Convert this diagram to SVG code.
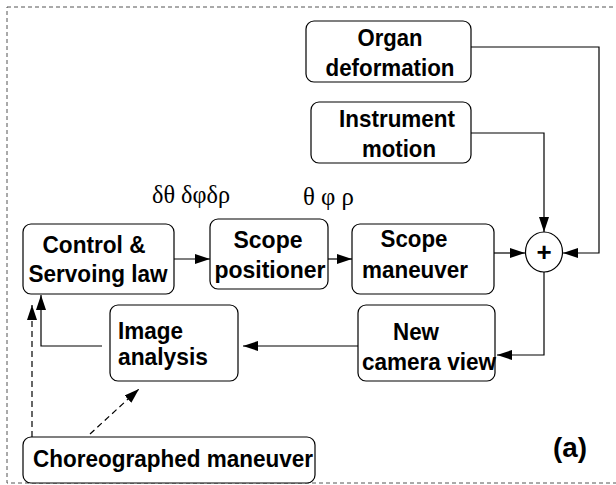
<svg xmlns="http://www.w3.org/2000/svg" width="616" height="485" viewBox="0 0 616 485">
<defs>
<style>
.box{fill:#fff;stroke:#000;stroke-width:1.2}
.lbl{font-family:"Liberation Sans",Arial,sans-serif;font-weight:bold;font-size:24px;fill:#000}
.mid{text-anchor:middle}
.gr{font-family:"Liberation Serif","Times New Roman",serif;font-size:25px;fill:#000}
.ln{fill:none;stroke:#000;stroke-width:1.2}
.dash{fill:none;stroke:#000;stroke-width:1.2;stroke-dasharray:6 4}
</style>
<marker id="ah" markerUnits="userSpaceOnUse" markerWidth="16" markerHeight="10" refX="15" refY="5" orient="auto">
<path d="M0,0 L15,5 L0,10 Z" fill="#000"/>
</marker>
</defs>
<rect x="7" y="7" width="620" height="476" fill="none" stroke="#555" stroke-width="1" stroke-dasharray="4 3"/>

<g id="organ">
<rect class="box" x="306" y="21" width="165" height="61" rx="8"/>
<text class="lbl mid" x="390" y="46" textLength="65" lengthAdjust="spacingAndGlyphs">Organ</text>
<text class="lbl mid" x="390" y="76" textLength="129" lengthAdjust="spacingAndGlyphs">deformation</text>
</g>
<g id="instrument">
<rect class="box" x="311" y="102" width="160" height="61" rx="8"/>
<text class="lbl mid" x="397" y="127" textLength="116" lengthAdjust="spacingAndGlyphs">Instrument</text>
<text class="lbl mid" x="399" y="157" textLength="74" lengthAdjust="spacingAndGlyphs">motion</text>
</g>
<g id="control">
<rect class="box" x="23" y="224" width="151" height="70" rx="8"/>
<text class="lbl mid" x="94" y="253" textLength="103" lengthAdjust="spacingAndGlyphs">Control &amp;</text>
<text class="lbl mid" x="98" y="282" textLength="139" lengthAdjust="spacingAndGlyphs">Servoing law</text>
</g>
<g id="positioner">
<rect class="box" x="210" y="219" width="118" height="70" rx="8"/>
<text class="lbl mid" x="268" y="248" textLength="69" lengthAdjust="spacingAndGlyphs">Scope</text>
<text class="lbl mid" x="270" y="278" textLength="111" lengthAdjust="spacingAndGlyphs">positioner</text>
</g>
<g id="maneuver">
<rect class="box" x="352" y="224" width="142" height="70" rx="8"/>
<text class="lbl mid" x="414" y="247" textLength="67" lengthAdjust="spacingAndGlyphs">Scope</text>
<text class="lbl mid" x="415" y="278" textLength="106" lengthAdjust="spacingAndGlyphs">maneuver</text>
</g>
<g id="sum">
<ellipse cx="544" cy="252" rx="18.5" ry="20" fill="#fff" stroke="#000" stroke-width="1.2"/>
<text class="lbl mid" x="544" y="261" style="font-size:26px">+</text>
</g>
<g id="image">
<rect class="box" x="110" y="305" width="128" height="76" rx="8"/>
<text class="lbl" x="118" y="339" textLength="65" lengthAdjust="spacingAndGlyphs">Image</text>
<text class="lbl" x="118" y="365" textLength="90" lengthAdjust="spacingAndGlyphs">analysis</text>
</g>
<g id="camera">
<rect class="box" x="358" y="305" width="137" height="76" rx="8"/>
<text class="lbl mid" x="416" y="340" textLength="46" lengthAdjust="spacingAndGlyphs">New</text>
<text class="lbl mid" x="429" y="370" textLength="134" lengthAdjust="spacingAndGlyphs">camera view</text>
</g>
<g id="choreo">
<rect class="box" x="23" y="437" width="292" height="46" rx="8"/>
<text class="lbl" x="33" y="467" textLength="280" lengthAdjust="spacingAndGlyphs">Choreographed maneuver</text>
</g>
<g id="labels">
<text class="gr" x="152" y="203" textLength="78" lengthAdjust="spacingAndGlyphs">δθ δφδρ</text>
<text class="gr" x="303" y="205" textLength="51" lengthAdjust="spacingAndGlyphs">θ φ ρ</text>
<text class="lbl" x="553" y="457" style="font-size:28px" textLength="34" lengthAdjust="spacingAndGlyphs">(a)</text>
</g>

<g id="connectors">
<path class="ln" d="M471,47 H599 V253 H563" marker-end="url(#ah)"/>
<path class="ln" d="M471,133 H544 V232" marker-end="url(#ah)"/>
<path class="ln" d="M174,259 H210" marker-end="url(#ah)"/>
<path class="ln" d="M328,259 H352" marker-end="url(#ah)"/>
<path class="ln" d="M494,253 H525" marker-end="url(#ah)"/>
<path class="ln" d="M544,272 V355 H497" marker-end="url(#ah)"/>
<path class="ln" d="M358,346 H243" marker-end="url(#ah)"/>
<path class="ln" d="M102,346 H41 V295" marker-end="url(#ah)"/>
<path class="dash" d="M32,437 V305" marker-end="url(#ah)"/>
<path class="dash" d="M90,434 L139,389" marker-end="url(#ah)"/>
</g>
</svg>
